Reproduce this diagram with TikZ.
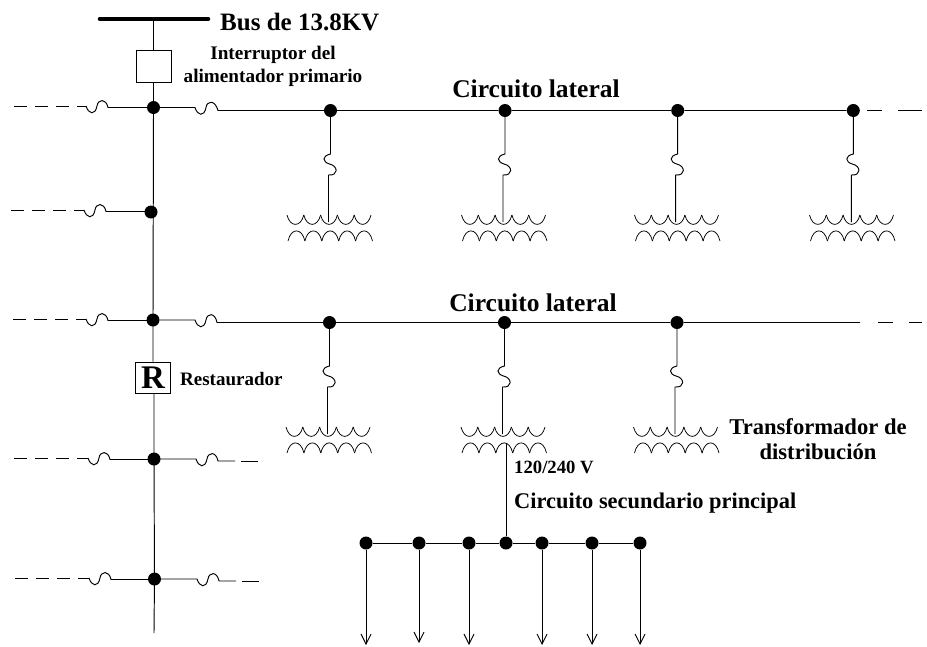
\documentclass[tikz,border=0pt]{standalone}
\usepackage{fontspec}
\setmainfont{Liberation Serif}
\usetikzlibrary{calc,arrows.meta}
\tikzset{
  x=1pt,y=-1pt,
  wire/.style={line width=0.95pt,black},
  dashwire/.style={wire,dash pattern=on 12.5pt off 8.5pt},
  joint/.style={circle,fill=black,inner sep=0pt,minimum size=13pt},
  swbox/.style={draw,line width=0.95pt,fill=white,inner sep=0pt,minimum width=35pt,minimum height=32pt},
  label/.style={align=center,inner sep=0pt},
  fuseh/.style={to path={
    .. controls ($(\tikztostart)+(2.5,8)$) and ($(\tikztostart)+(9,10)$) .. ($(\tikztostart)+(11,0)$)
    .. controls ($(\tikztostart)+(12,-7)$) and ($(\tikztostart)+(20,-8)$) .. (\tikztotarget)}},
  fusev/.style={to path={
    .. controls ($(\tikztostart)+(-9,2)$) and ($(\tikztostart)+(-8,8)$) .. ($(\tikztostart)+(-1,10)$)
    .. controls ($(\tikztostart)+(8,12)$) and ($(\tikztostart)+(8,22)$) .. (\tikztotarget)}},
  xfmr/.pic={
    \coordinate (-top) at (0,0);
    \coordinate (-bot) at (1,10);
    \foreach \a in {0,...,4}{
      \pgfmathsetmacro\p{-42+\a*16.8}
      \draw[wire,line width=0.75pt] (\p,-7) .. controls ({\p+3},5.5) and ({\p+13.8},5.5) .. ({\p+16.8},-7);
      \pgfmathsetmacro\q{-41+\a*16.9}
      \draw[wire,line width=0.75pt] (\q,19) .. controls ({\q+3},5.5) and ({\q+13.9},5.5) .. ({\q+16.9},19);
    }
  },
  load/.style={wire,-{Straight Barb[length=10pt,width=10pt,line width=0.9pt]}}
}
\begin{document}
\begin{tikzpicture}
\useasboundingbox (0,0) rectangle (927,646);
% main feeder
\coordinate (busL) at (100,19);
\coordinate (busR) at (208,19);
\coordinate (busT) at (153.3,19);
\draw[line width=4.6pt,line cap=round] (busL) -- (busR);
\node[swbox] (brk) at (153.8,66) {};
\node[joint] (J1) at (153.5,107.5) {};
\node[joint] (J2) at (151,212) {};
\node[joint] (J3) at (153,320) {};
\node[swbox,minimum height=31pt] (rec) at (153,377.5) {\fontsize{33}{33}\selectfont\bfseries R};
\node[joint] (J4) at (154,459) {};
\node[joint] (J5) at (154.5,579) {};
\coordinate (end) at (154,633);
\draw[wire] (busT) -- (busT |- brk.north);
\draw[wire] (J1 |- brk.south) -- (J1.center) -- (J3.center) -- (J3 |- rec.north);
\draw[wire] (J4 |- rec.south) -- (J4.center) -- (J5.center) -- (end);
% left stubs
\foreach \n/\xs/\xa/\ya in {J1/14/86/106,J2/11/84/210,J3/13/86/319,J4/14/88/458,J5/15/89/578}{
  \coordinate (s) at (\xs,\ya);
  \coordinate (fa) at (\xa,\ya);
  \coordinate (fb) at (\xa+22,\ya+1.5);
  \draw[dashwire] (s) -- (fa);
  \draw[wire] (fa) to[fuseh] (fb) -- (\n.center |- fb);
}
% right stubs J4 J5
\foreach \n/\xa/\ya in {J4/196/459,J5/197/579}{
  \coordinate (fa) at (\xa,\ya);
  \coordinate (fb) at (\xa+22,\ya+2);
  \coordinate (d1) at (\xa+39,\ya+2);
  \coordinate (d2) at (\xa+45,\ya+2);
  \coordinate (d3) at (\xa+62,\ya+2);
  \draw[wire] (\n.center) -- (fa) to[fuseh] (fb) -- (d1);
  \draw[wire] (d2) -- (d3);
}
% lateral 1
\coordinate (f1a) at (195,107.5);
\coordinate (f1b) at (218,110.5);
\node[joint] (A1) at (330.5,110.5) {};
\node[joint] (A2) at (505,110.5) {};
\node[joint] (A3) at (677.7,110.5) {};
\node[joint] (A4) at (853.3,110.5) {};
\coordinate (A5) at (867,110.8);
\coordinate (A6) at (882,110.8);
\coordinate (A7) at (898,110.8);
\coordinate (A8) at (922,110.8);
\draw[wire] (J1) -- (f1a) to[fuseh] (f1b) -- (A1) -- (A2) -- (A3) -- (A4);
\draw[wire] (A5) -- (A6) (A7) -- (A8);
% lateral 2
\coordinate (f2a) at (195,320);
\coordinate (f2b) at (217,322.5);
\node[joint] (B1) at (329.5,322.5) {};
\node[joint] (B2) at (504.5,322.5) {};
\node[joint] (B3) at (677,322.5) {};
\coordinate (B4) at (860,322.5);
\coordinate (B5) at (878,322.5);
\coordinate (B6) at (893,322.5);
\coordinate (B7) at (909,322.5);
\coordinate (B8) at (922,322.5);
\draw[wire] (J3) -- (f2a) to[fuseh] (f2b) -- (B1) -- (B2) -- (B3) -- (B4);
\draw[wire] (B5) -- (B6) (B7) -- (B8);
% transformers
\foreach \n/\x/\y/\j/\jy in {TA/329/222/A1/110,TB/503.5/222/A2/110,TC/676.5/222/A3/110,TD/851.5/222/A4/110,TE/328/434/B1/322,TF/503/434/B2/322,TG/675.5/434/B3/322}{
  \pic (\n) at (\x,\y) {xfmr};
  \coordinate (fa) at (\j |- 0,\jy+44);
  \coordinate (fb) at ($(fa)+(-2,21)$);
  \draw[wire] (\j) -- (fa) to[fusev] (fb) -- (fb |- \n-top);
}
% secondary
\node[joint] (C1) at (366,543) {};
\node[joint] (C2) at (419,543) {};
\node[joint] (C3) at (469,543) {};
\node[joint] (C4) at (506,543) {};
\node[joint] (C5) at (542,543) {};
\node[joint] (C6) at (592,543) {};
\node[joint] (C7) at (640,543) {};
\draw[wire] (C1) -- (C2) -- (C3) -- (C4) -- (C5) -- (C6) -- (C7);
\draw[wire] (C4 |- TF-bot) -- (C4);
\foreach \n/\y in {C1/645,C2/643,C3/645,C5/645,C6/645,C7/645}{
  \coordinate (e\n) at (\n |- 0,\y);
  \draw[load] (\n) -- (e\n);
}
% labels
\node[label,anchor=west,font=\fontsize{25}{25}\selectfont\bfseries] (t1) at (220,22) {Bus de 13.8KV};
\node[label,font=\fontsize{19.2}{22.5}\selectfont\bfseries] (t2) at (273,66.5) {Interruptor del\\alimentador primario};
\node[label,font=\fontsize{25.5}{25.5}\selectfont\bfseries] (t3) at (536,89) {Circuito lateral};
\node[label,font=\fontsize{25.5}{25.5}\selectfont\bfseries] (t4) at (533,303) {Circuito lateral};
\node[label,anchor=west,font=\fontsize{19}{19}\selectfont\bfseries] (t5) at (180,379) {Restaurador};
\node[label,font=\fontsize{22.6}{25.5}\selectfont\bfseries] (t6) at (818,439) {Transformador de\\distribución};
\node[label,anchor=west,font=\fontsize{18.7}{18.7}\selectfont\bfseries] (t7) at (514,467) {120/240 V};
\node[label,anchor=west,font=\fontsize{22.4}{22.4}\selectfont\bfseries] (t8) at (514,503) {Circuito secundario principal};
\end{tikzpicture}
\end{document}
